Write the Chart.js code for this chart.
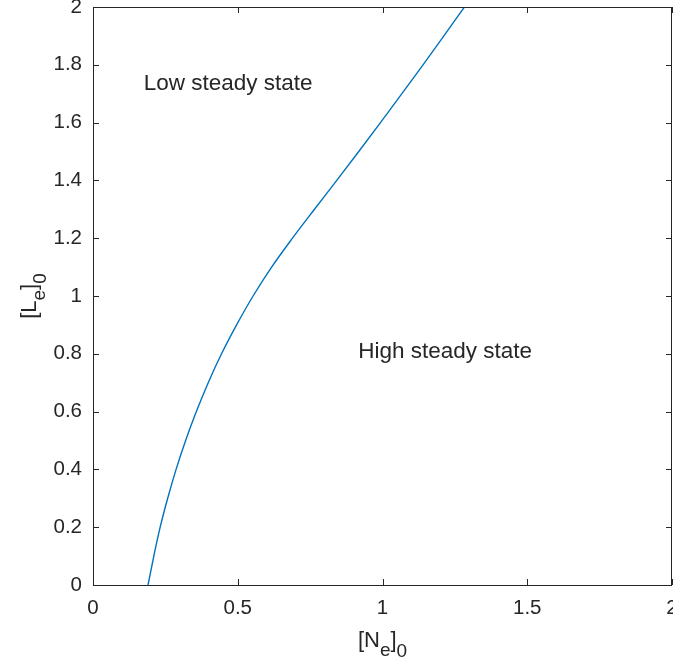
<!DOCTYPE html>
<html>
<head>
<meta charset="utf-8">
<script src="https://cdn.jsdelivr.net/npm/chart.js@4"></script>
<style>
  body { margin: 0; background: #fff; }
  canvas { display: block; }
</style>
</head>
<body>
<canvas id="phaseChart" width="673" height="663"></canvas>
<script>
// boundary between the two steady states
const leValues = [0, 0.1, 0.2, 0.3, 0.4, 0.5, 0.6, 0.7, 0.8, 0.9, 1.0, 1.1, 1.2, 1.3, 1.4, 1.5, 1.6, 1.7, 1.8, 1.9, 2.0];
const neValues = [0.190, 0.210, 0.232, 0.258, 0.287, 0.320, 0.357, 0.398, 0.444, 0.496, 0.553, 0.617, 0.689, 0.765, 0.842, 0.918, 0.993, 1.067, 1.140, 1.212, 1.283];

const xTicks = [0, 0.5, 1, 1.5, 2];
const yTicks = [0, 0.2, 0.4, 0.6, 0.8, 1, 1.2, 1.4, 1.6, 1.8, 2];

// region labels (data coords of left end / baseline)
const regionLabels = [
  {text: 'Low steady state', x: 0.175, y: 1.714},
  {text: 'High steady state', x: 0.916, y: 0.786}
];

const FONT = '"Liberation Sans", Arial, Helvetica, sans-serif';
const INK = '#262626';

// draws the axes box, inward ticks, axis titles with subscripts and the region labels
const decorations = {
  id: 'decorations',
  afterDraw(chart) {
    const {ctx, chartArea: a, scales: {x, y}} = chart;
    ctx.save();
    ctx.strokeStyle = INK;
    ctx.lineWidth = 1;
    ctx.strokeRect(Math.round(a.left) + 0.5, Math.round(a.top) + 0.5,
      Math.round(a.right - a.left) - 1, Math.round(a.bottom - a.top));

    const tl = 6;
    ctx.beginPath();
    xTicks.forEach(v => {
      const px = Math.round(x.getPixelForValue(v)) + 0.5;
      ctx.moveTo(px, a.bottom); ctx.lineTo(px, a.bottom - tl);
      ctx.moveTo(px, a.top); ctx.lineTo(px, a.top + tl);
    });
    yTicks.forEach(v => {
      const py = Math.round(y.getPixelForValue(v)) + 0.5;
      ctx.moveTo(a.left, py); ctx.lineTo(a.left + tl, py);
      ctx.moveTo(a.right, py); ctx.lineTo(a.right - tl, py);
    });
    ctx.stroke();

    ctx.fillStyle = INK;
    ctx.textBaseline = 'alphabetic';
    ctx.textAlign = 'left';
    ctx.font = '22.5px ' + FONT;
    regionLabels.forEach(l => {
      ctx.fillText(l.text, x.getPixelForValue(l.x), y.getPixelForValue(l.y));
    });

    // axis title like "[N" + sub "e" + "]" + sub "0"
    const drawSubTitle = (main, sub, cx, cy) => {
      const big = '22px ' + FONT, small = '19px ' + FONT;
      const parts = [['[' + main, big, 0], [sub, small, 9], [']', big, 0], ['0', small, 10]];
      let w = 0;
      parts.forEach(p => { ctx.font = p[1]; w += ctx.measureText(p[0]).width; });
      let px = cx - w / 2;
      parts.forEach(p => {
        ctx.font = p[1];
        ctx.fillText(p[0], px, cy + p[2]);
        px += ctx.measureText(p[0]).width;
      });
    };
    drawSubTitle('N', 'e', (a.left + a.right) / 2, 647);

    ctx.translate(36, (a.top + a.bottom) / 2);
    ctx.rotate(-Math.PI / 2);
    drawSubTitle('L', 'e', 0, 0);
    ctx.restore();
  }
};

const ctx = document.getElementById('phaseChart').getContext('2d');
const phaseChart = new Chart(ctx, {
  type: 'scatter',
  data: {
    datasets: [{
      data: neValues.map((v, i) => ({x: v, y: leValues[i]})),
      showLine: true,
      borderColor: '#0072BD',
      borderWidth: 1.4,
      pointRadius: 0,
      cubicInterpolationMode: 'monotone'
    }]
  },
  options: {
    responsive: false,
    animation: false,
    layout: {padding: {top: 7, right: 1, left: 0, bottom: 0}},
    plugins: {legend: {display: false}, tooltip: {enabled: false}},
    scales: {
      x: {
        min: 0, max: 2,
        grid: {display: false, drawTicks: false},
        border: {display: false},
        afterBuildTicks: s => { s.ticks = xTicks.map(v => ({value: v})); },
        afterFit: s => { s.height = 78; s.paddingLeft = 0; s.paddingRight = 0; },
        ticks: {
          color: INK, padding: 11, maxRotation: 0, autoSkip: false,
          font: {family: FONT, size: 20.5},
          callback: v => String(v)
        }
      },
      y: {
        min: 0, max: 2,
        grid: {display: false, drawTicks: false},
        border: {display: false},
        afterBuildTicks: s => { s.ticks = yTicks.map(v => ({value: v})); },
        afterFit: s => { s.width = 93; s.paddingTop = 0; s.paddingBottom = 0; },
        ticks: {
          color: INK, padding: 11, autoSkip: false,
          font: {family: FONT, size: 20.5},
          callback: v => String(v)
        }
      }
    }
  },
  plugins: [decorations]
});
</script>
</body>
</html>
